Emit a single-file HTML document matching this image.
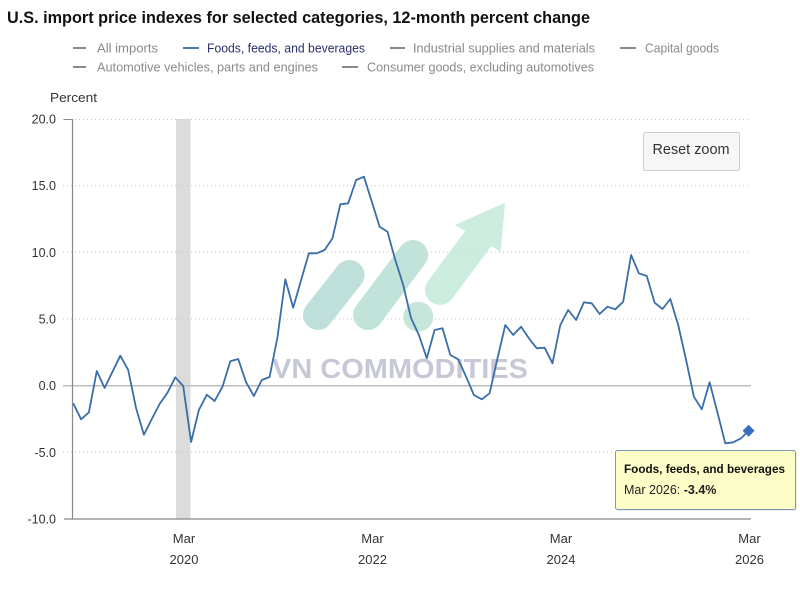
<!DOCTYPE html>
<html><head><meta charset="utf-8"><style>
html,body{margin:0;padding:0;background:#fff;}
svg{display:block;}
text{font-family:"Liberation Sans",Arial,sans-serif;}
</style></head><body>
<svg width="800" height="589" viewBox="0 0 800 589" xmlns="http://www.w3.org/2000/svg">
<rect width="800" height="589" fill="#fff"/>
<!-- title -->
<text x="7" y="23" font-size="16.5" font-weight="bold" fill="#111" textLength="583" lengthAdjust="spacingAndGlyphs">U.S. import price indexes for selected categories, 12-month percent change</text>
<!-- legend -->
<g font-size="13">
<line x1="73" y1="48" x2="86" y2="48" stroke="#8a8a8a" stroke-width="2"/>
<text x="97" y="52.5" fill="#8a8a8a" textLength="61" lengthAdjust="spacingAndGlyphs">All imports</text>
<line x1="183" y1="48" x2="199" y2="48" stroke="#4a7ab0" stroke-width="2"/>
<text x="207" y="52.5" fill="#2b2f6e" textLength="158" lengthAdjust="spacingAndGlyphs">Foods, feeds, and beverages</text>
<line x1="390" y1="48" x2="405" y2="48" stroke="#8a8a8a" stroke-width="2"/>
<text x="413" y="52.5" fill="#8a8a8a" textLength="182" lengthAdjust="spacingAndGlyphs">Industrial supplies and materials</text>
<line x1="620" y1="48" x2="636" y2="48" stroke="#8a8a8a" stroke-width="2"/>
<text x="645" y="52.5" fill="#8a8a8a" textLength="74" lengthAdjust="spacingAndGlyphs">Capital goods</text>
<line x1="73" y1="67" x2="86" y2="67" stroke="#8a8a8a" stroke-width="2"/>
<text x="97" y="71.5" fill="#8a8a8a" textLength="221" lengthAdjust="spacingAndGlyphs">Automotive vehicles, parts and engines</text>
<line x1="342" y1="67" x2="358" y2="67" stroke="#8a8a8a" stroke-width="2"/>
<text x="367" y="71.5" fill="#8a8a8a" textLength="227" lengthAdjust="spacingAndGlyphs">Consumer goods, excluding automotives</text>
</g>
<text x="50" y="102" font-size="13" fill="#333" textLength="47" lengthAdjust="spacingAndGlyphs">Percent</text>
<!-- recession band -->
<rect x="176" y="119" width="14.5" height="400" fill="#dcdcdc"/>
<!-- gridlines -->
<g stroke="#c4c4c4" stroke-width="1" stroke-dasharray="1,3">
<line x1="63" y1="119.5" x2="751" y2="119.5"/>
<line x1="63" y1="185.7" x2="751" y2="185.7"/>
<line x1="63" y1="252.3" x2="751" y2="252.3"/>
<line x1="63" y1="319" x2="751" y2="319"/>
<line x1="63" y1="452.3" x2="751" y2="452.3"/>
</g>
<line x1="63" y1="385.7" x2="751" y2="385.7" stroke="#bdbdbd" stroke-width="1.5"/>
<line x1="64" y1="119.5" x2="72.5" y2="119.5" stroke="#888" stroke-width="1"/>
<line x1="64" y1="519" x2="751" y2="519" stroke="#888" stroke-width="1.2"/>
<line x1="72.5" y1="119" x2="72.5" y2="519" stroke="#888" stroke-width="1.2"/>
<!-- y labels -->
<g font-size="12.5" fill="#333" text-anchor="end">
<text x="56" y="123.5">20.0</text>
<text x="56" y="190">15.0</text>
<text x="56" y="256.8">10.0</text>
<text x="56" y="323.5">5.0</text>
<text x="56" y="390">0.0</text>
<text x="56" y="456.8">-5.0</text>
<text x="56" y="523.5">-10.0</text>
</g>
<!-- x labels -->
<g font-size="13" fill="#333" text-anchor="middle">
<text x="184" y="543">Mar</text><text x="184" y="564">2020</text>
<text x="372.5" y="543">Mar</text><text x="372.5" y="564">2022</text>
<text x="561" y="543">Mar</text><text x="561" y="564">2024</text>
<text x="749.5" y="543">Mar</text><text x="749.5" y="564">2026</text>
</g>
<!-- watermark -->
<g opacity="0.9">
<line x1="318" y1="315" x2="349.5" y2="275" stroke="#b8dcd6" stroke-width="30" stroke-linecap="round"/>
<line x1="368" y1="315" x2="413" y2="255" stroke="#bce1d7" stroke-width="30" stroke-linecap="round"/>
<circle cx="418.3" cy="316.7" r="15" fill="#c0e4d8"/>
<line x1="440" y1="290" x2="480" y2="236" stroke="#c7ecda" stroke-width="30" stroke-linecap="round"/>
<polygon points="505,202.7 455,225 500.7,251.7" fill="#c7ecda"/>
</g>
<text x="272" y="378" font-size="28" font-weight="bold" fill="#c7c8d6" textLength="256" lengthAdjust="spacingAndGlyphs">VN COMMODITIES</text>
<!-- series -->
<polyline fill="none" stroke="#3a6ea8" stroke-width="1.8" stroke-linejoin="round" points="
73.2,403.3 81.1,419.3 88.9,412.3 96.8,371 104.6,388 112.5,371.7 120.3,355.7 128.2,370 136.1,408.3 143.9,434.7
151.8,419 159.6,404 167.5,392.7 175.3,377.3 183.2,386 191.1,442 198.9,410 206.8,394.7 214.6,401 222.5,386.7
230.3,361.3 238.2,359 246.1,382.3 253.9,396 261.8,380 269.6,377 277.5,337 285.3,279.3 293.2,307.7 301.1,280
308.9,253.3 316.8,253.3 324.6,250 332.5,238.3 340.3,204.3 348.2,203.3 356.1,180 363.9,176.7 371.8,201.7 379.6,226.7
387.5,231.7 395.3,260 403.2,285 411.1,318.3 418.9,335 426.8,358.3 434.6,330 442.5,328.3 450.3,355 458.2,359.3
466.1,376.7 473.9,395 481.8,399.3 489.6,393.3 497.5,358.3 505.3,325 513.2,335 521.1,326.7 528.9,338.3 536.8,348.3
544.6,347.7 552.5,363.3 560.3,325 568.2,310 576.1,320 583.9,302.3 591.8,303.3 599.6,314 607.5,306.7 615.3,309.3
623.2,301.7 631.1,255 638.9,273.3 646.8,276 654.6,302.7 662.5,309 670.3,299 678.2,325 686.1,360 693.9,396.7
701.8,409.3 709.6,382.3 717.5,412.7 725.3,443.3 733.2,442.3 741.1,438.3 748.6,430.7"/>
<polygon points="748.6,424.7 754.6,430.7 748.6,436.7 742.6,430.7" fill="#3a6fc0"/>
<!-- reset zoom -->
<rect x="643.5" y="132.5" width="96" height="38" rx="2" fill="#f7f7f7" stroke="#cccccc"/>
<text x="691" y="154" font-size="14.5" fill="#333" text-anchor="middle" textLength="77" lengthAdjust="spacingAndGlyphs">Reset zoom</text>
<!-- tooltip -->
<rect x="617" y="452" width="180" height="59" rx="2" fill="#000" opacity="0.08"/>
<rect x="615.5" y="450.5" width="180" height="59" rx="2" fill="#fdfdc8" stroke="#7c98b8" stroke-width="1"/>
<text x="624" y="473" font-size="12" font-weight="bold" fill="#111" textLength="161" lengthAdjust="spacingAndGlyphs">Foods, feeds, and beverages</text>
<text x="624" y="494" font-size="12.5" fill="#222">Mar 2026: <tspan font-weight="bold">-3.4%</tspan></text>
</svg>
</body></html>
